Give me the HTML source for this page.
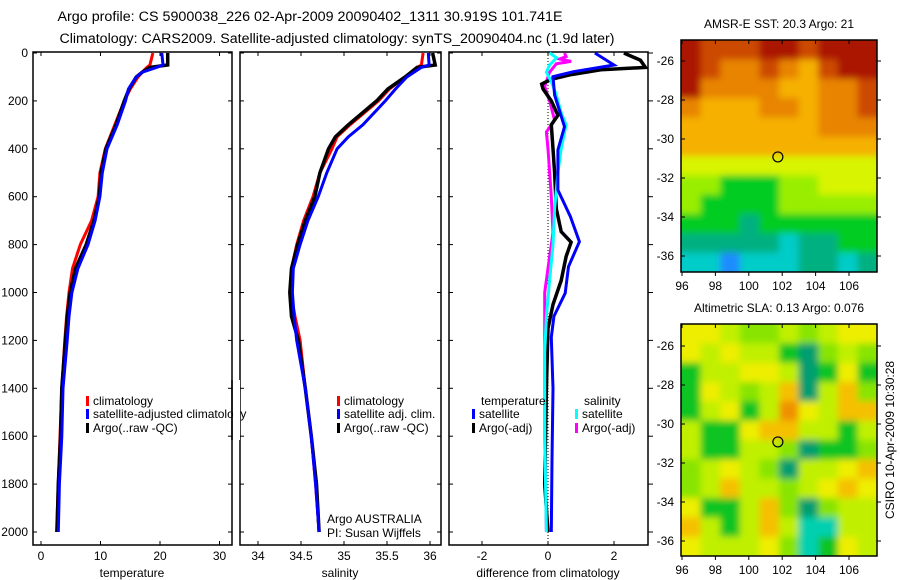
<!DOCTYPE html>
<html><head><meta charset="utf-8"><style>
body{margin:0;background:#fff;}
svg{display:block;font-family:"Liberation Sans",sans-serif;}
</style></head><body>
<svg id="c" width="900" height="580" viewBox="0 0 900 580">
<defs>
<filter id="bl" x="0" y="0" width="1" height="1"><feGaussianBlur stdDeviation="3.5"/></filter>
<clipPath id="m1c"><rect x="681" y="40" width="196" height="232"/></clipPath>
<clipPath id="m2c"><rect x="681" y="324" width="196" height="232"/></clipPath>
</defs>
<text x="310" y="21" font-size="13.5" text-anchor="middle" textLength="505" lengthAdjust="spacingAndGlyphs">Argo profile: CS 5900038_226 02-Apr-2009 20090402_1311 30.919S 101.741E</text>
<text x="337" y="43" font-size="13.5" text-anchor="middle" textLength="555" lengthAdjust="spacingAndGlyphs">Climatology: CARS2009. Satellite-adjusted climatology: synTS_20090404.nc (1.9d later)</text>
<g id="root"></g>
</svg>
<script>
// ---- data ----
const depthsT=[0,50,60,80,100,150,200,300,400,500,600,700,800,900,1000,1100,1200,1400,1600,1800,2000];
const tempClim=[18.8,18.3,17.8,17.0,16.3,15.0,14.0,12.4,10.8,9.9,9.6,8.5,6.6,5.3,4.7,4.3,4.0,3.5,3.2,2.9,2.6];
const tempSat=[20.3,20.5,19.4,17.0,16.0,14.7,14.2,12.8,11.1,10.3,9.9,9.1,7.9,6.2,5.2,4.7,4.4,3.7,3.5,3.1,2.9];
const tempArgo=[21.3,21.3,18.3,17.0,16.0,14.8,14.0,12.6,10.9,10.1,9.8,8.9,7.6,5.8,4.9,4.4,4.1,3.5,3.3,2.9,2.7];
const depthsS=[0,50,60,100,150,200,300,350,400,500,600,700,800,900,1000,1100,1200,1400,1600,1800,2000];
const salClim=[35.92,35.9,35.85,35.71,35.53,35.4,35.07,34.92,34.86,34.72,34.64,34.53,34.45,34.39,34.38,34.43,34.49,34.55,34.62,34.67,34.71];
const salSat=[35.98,35.99,35.9,35.73,35.6,35.48,35.22,35.05,34.92,34.8,34.7,34.58,34.49,34.41,34.4,34.42,34.45,34.55,34.62,34.67,34.71];
const salArgo=[36.03,36.06,35.85,35.71,35.51,35.38,35.05,34.9,34.82,34.72,34.66,34.55,34.46,34.39,34.37,34.39,34.47,34.55,34.62,34.68,34.71];
const dDepthTS=[0,50,78,99,175,308,405,572,683,788,892,1003,1100,1187,1400,1700,2000];
const dTempSat=[1.42,2.0,0.77,0.15,0.2,0.5,0.3,0.3,0.68,0.95,0.62,0.52,0.18,0.1,0.15,0.12,0.1];
const dDepthTA=[0,30,60,70,90,110,130,150,200,260,300,400,500,650,746,790,850,950,1050,1150,1400,1800,2000];
const dTempArgo=[2.3,2.8,2.95,1.6,0.7,0.1,-0.19,-0.15,0.1,0.3,0.1,0.15,0.2,0.25,0.4,0.7,0.55,0.4,0.15,0.0,-0.05,-0.1,0.0];
const dDepthSS=[0,20,50,80,120,175,250,300,400,500,650,800,950,1100,1250,1600,2000];
const dSalSat=[0.05,0.26,0.05,-0.05,0.1,0.25,0.4,0.55,0.4,0.3,0.2,0.15,0.05,-0.05,-0.1,-0.1,-0.05];
const dDepthSA=[0,15,25,35,45,80,140,200,280,330,400,600,750,850,1000,1150,1600,2000];
const dSalArgo=[0.5,0.55,0.35,0.7,0.25,0.05,-0.1,0.05,0.2,-0.05,0.0,0.1,0.15,0.05,-0.1,-0.1,-0.1,-0.05];
const depthTicks=[0,200,400,600,800,1000,1200,1400,1600,1800,2000];
const tempTicks=[0,10,20,30];
const salTicks=[34,34.5,35,35.5,36];
const diffTicks=[-2,0,2];
const lonTicks=[96,98,100,102,104,106];
const latTicks=[-26,-28,-30,-32,-34,-36];
const sstGrid=[
[9,8,8,8,9,9,8,9,9,9],[9,8,7,7,8,7,6,8,9,9],[9,7,7,7,7,6,6,7,7,8],[7,6,6,6,7,7,6,7,7,8],
[6,6,6,6,6,6,6,7,7,7],[6,6,6,6,6,6,6,6,6,6],[5,5,5,5,5,5,5,5,5,5],[4,4,3,3,3,4,4,5,5,5],
[4,3,3,3,3,4,4,4,4,4],[3,3,3,2,3,3,3,3,3,3],[2,2,2,2,2,1,2,2,3,3],[1,1,0,1,1,1,2,2,1,2]];
const slaGrid=[
[5,5,4,3,3,4,3,4,5,5],[5,4,5,4,4,2,1,3,4,3],[2,4,4,5,5,4,1,2,5,2],[2,5,4,3,4,6,1,4,6,3],
[2,4,5,2,4,7,5,4,6,6],[4,2,2,5,6,6,4,4,2,4],[4,2,2,4,4,3,1,2,2,3],[3,4,5,4,3,1,4,4,5,6],
[3,4,6,4,4,3,4,5,6,5],[5,2,2,4,6,3,1,3,4,4],[6,4,2,4,6,4,0,0,4,4],[5,4,4,4,5,3,0,2,5,4]];
const argoLon=101.741, argoLat=-30.919;
// ---- helpers ----
const NS="http://www.w3.org/2000/svg";
const root=document.getElementById('root');
function mk(tag,at,parent){const e=document.createElementNS(NS,tag);for(const k in at)e.setAttribute(k,at[k]);(parent||root).appendChild(e);return e;}
function txt(x,y,s,size,anchor,parent){const t=mk('text',{x:x,y:y,'font-size':size,'text-anchor':anchor||'start'},parent);t.textContent=s;return t;}
const yD=d=>53+d*0.2395;
const xT=t=>41+t*5.95;
const xS=s=>258+(s-34)*86;
const xDf=v=>548+v*33;
const panels=[{x0:33,x1:232,name:'temperature-panel'},{x0:240,x1:441,name:'salinity-panel'},{x0:449,x1:648,name:'difference-panel'}];
const PT=52,PB=545;
panels.forEach(p=>{
 const r=mk('rect',{x:p.x0,y:PT,width:p.x1-p.x0,height:PB-PT,fill:'none',stroke:'#000','stroke-width':1.5});
 
 
});
depthTicks.forEach(d=>{
 const t=txt(28,yD(d)+4,String(d),12,'end');
 
 
 [[33,37],[228,232],[240,244],[437,441],[449,453],[648,653]].forEach(a=>mk('line',{x1:a[0],x2:a[1],y1:yD(d),y2:yD(d),stroke:'#000'}));
});
function xticks(ticks,f,labelFmt,nm){ticks.forEach(v=>{const x=f(v);
 mk('line',{x1:x,x2:x,y1:PB,y2:PB-4,stroke:'#000'});mk('line',{x1:x,x2:x,y1:PT,y2:PT+4,stroke:'#000'});
 const t=txt(x,560,labelFmt(v),12,'middle');
 
 });}
xticks(tempTicks,xT,String,'temperature-tick-label');
xticks(salTicks,xS,String,'salinity-tick-label');
xticks(diffTicks,xDf,String,'difference-tick-label');
[['temperature',132],['salinity',340],['difference from climatology',548]].forEach(a=>{
 const t=txt(a[1],577,a[0],12,'middle');
 
 });
const z=mk('line',{x1:xDf(0),x2:xDf(0),y1:PT,y2:PB,stroke:'#000','stroke-dasharray':'1,2'});


function series(ds,vs,fx,col,w,nm){
 const pts=ds.map((d,i)=>fx(vs[i]).toFixed(1)+','+yD(d).toFixed(1)).join(' ');
 const p=mk('polyline',{points:pts,fill:'none',stroke:col,'stroke-width':w,'stroke-linejoin':'miter'});
 
 }
series(depthsT,tempClim,xT,'#f00',3,'temp-climatology-line');
series(depthsT,tempArgo,xT,'#000',3.5,'temp-argo-line');
series(depthsT,tempSat,xT,'#00f',3,'temp-satellite-line');
series(depthsS,salClim,xS,'#f00',3,'sal-climatology-line');
series(depthsS,salArgo,xS,'#000',3.5,'sal-argo-line');
series(depthsS,salSat,xS,'#00f',3,'sal-satellite-line');
series(dDepthSA,dSalArgo,xDf,'#f0f',3,'diff-sal-argo-line');
series(dDepthTA,dTempArgo,xDf,'#000',3.5,'diff-temp-argo-line');
series(dDepthSS,dSalSat,xDf,'#0ff',3,'diff-sal-satellite-line');
series(dDepthTS,dTempSat,xDf,'#00f',3,'diff-temp-satellite-line');
function leg(x,y,col,label,nm){mk('rect',{x:x,y:y-9,width:3,height:10,fill:col});
 const t=txt(x+7,y,label,12,'start');
 
 }
leg(86,405,'#f00','climatology','legend-climatology');
leg(86,418,'#00f','satellite-adjusted climatology','legend-satellite');
leg(86,432,'#000','Argo(..raw -QC)','legend-argo');
mk('rect',{x:233,y:380,width:7,height:60,fill:'#fff'});
mk('line',{x1:232,x2:232,y1:380,y2:440,stroke:'#000','stroke-width':1.5});
leg(337,405,'#f00','climatology','legend2-climatology');
leg(337,418,'#00f','satellite adj. clim.','legend2-satellite');
leg(337,432,'#000','Argo(..raw -QC)','legend2-argo');
txt(327,523,'Argo AUSTRALIA',12,'start');
txt(327,537,'PI: Susan Wijffels',12,'start');
txt(481,405,'temperature',12,'start');
txt(584,405,'salinity',12,'start');
leg(472,418,'#00f','satellite','legend3-temp-satellite');
leg(472,432,'#000','Argo(-adj)','legend3-temp-argo');
leg(575,418,'#0ff','satellite','legend3-sal-satellite');
leg(575,432,'#f0f','Argo(-adj)','legend3-sal-argo');
const sstPal=['#1a8cff','#00ccc8','#00b080','#00cc22','#99ee00','#d8f400','#f5b000','#e88400','#cc4a00','#aa1500'];
const slaPal=['#00d0b0','#009e70','#11c422','#88e400','#c0f000','#eeee00','#f5c000','#f09000'];
const xL=l=>682+(l-96)*16.7;
function map(grid,pal,top,latTop,clip,nm,title){
 const g=mk('g',{'clip-path':'url(#'+clip+')'});
 
 
 const inner=mk('g',{filter:'url(#bl)'},g);
 const cw=196/10,ch=232/12;
 mk('rect',{x:671,y:top-10,width:216,height:252,fill:pal[grid[5][5]]},inner);
 grid.forEach((row,r)=>row.forEach((v,c)=>mk('rect',{x:681+c*cw-(c==0?10:0),y:top+r*ch-(r==0?10:0),width:cw+1+(c==0||c==9?10:0),height:ch+1+(r==0||r==11?10:0),fill:pal[v]},inner)));
 mk('rect',{x:681,y:top,width:196,height:232,fill:'none',stroke:'#000','stroke-width':1.5});
 const yL=l=>latTop+(-26-l)*19.5;
 latTicks.forEach(l=>{const y=yL(l);mk('line',{x1:681,x2:685,y1:y,y2:y,stroke:'#000'});mk('line',{x1:877,x2:881,y1:y,y2:y,stroke:'#000'});
  const t=txt(674,y+4,String(l),12,'end');
  
  });
 lonTicks.forEach(l=>{const x=xL(l);mk('line',{x1:x,x2:x,y1:top+232,y2:top+236,stroke:'#000'});mk('line',{x1:x,x2:x,y1:top,y2:top+4,stroke:'#000'});
  const t=txt(x,top+250,String(l),12,'middle');
  
  });
 const c=mk('circle',{cx:xL(argoLon),cy:yL(argoLat),r:5,fill:'none',stroke:'#000','stroke-width':1.2});
 
 
 const t=txt(779,top-12,title,12,'middle');
 
 
}
map(sstGrid,sstPal,40,61,'m1c','sst-map','AMSR-E SST: 20.3 Argo: 21');
map(slaGrid,slaPal,324,346,'m2c','sla-map','Altimetric SLA: 0.13 Argo: 0.076');
const cs=txt(0,0,'CSIRO 10-Apr-2009 10:30:28',12,'middle');
cs.setAttribute('transform','translate(894,440) rotate(-90)');


</script>
</body></html>
